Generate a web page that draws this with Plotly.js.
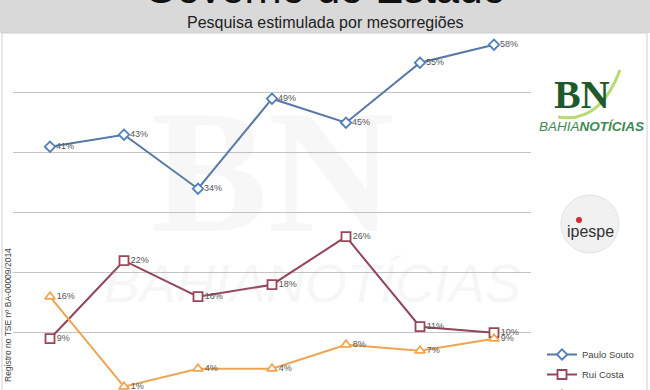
<!DOCTYPE html>
<html>
<head>
<meta charset="utf-8">
<script src="https://cdn.plot.ly/plotly-3.0.1.min.js"></script>
<style>html,body{margin:0;padding:0;background:#fff;}#chart{width:650px;height:390px;}</style>
</head>
<body>
<div id="chart"></div>
<script>
const regions = ["Extremo Oeste Baiano", "Vale São-Franciscano", "Centro-Norte Baiano", "Nordeste Baiano", "Metropolitana de Salvador", "Centro-Sul Baiano", "Sul Baiano"];
const pauloSouto = [41, 43, 34, 49, 45, 55, 58];
const ruiCosta = [9, 22, 16, 18, 26, 11, 10];
const lidice = [16, 1, 4, 4, 8, 7, 9];
const seriesNames = ["Paulo Souto", "Rui Costa", "Lídice da Mata"];
const gridTicks = [10, 20, 30, 40, 50];

const W = 650, H = 390;
const px = v => v / W;
const py = v => 1 - v / H;

function mk(name, y, color, lineColor, symbol, size) {
  return {
    type: 'scatter', mode: 'lines+markers+text', name: name, legendgroup: name,
    x: regions, y: y,
    line: {color: lineColor, width: 2},
    marker: {symbol: symbol, size: size, color: 'white', line: {color: color, width: 1.8}},
    texttemplate: '%{y}%', textposition: 'middle right',
    textfont: {family: 'Liberation Sans Narrow, Liberation Sans, sans-serif', size: 9, color: '#555'},
    cliponaxis: false
  };
}

const data = [
  mk(seriesNames[0], pauloSouto, '#4f7fbc', '#5578a6', 'diamond', 8),
  mk(seriesNames[1], ruiCosta, '#9a4558', '#944457', 'square', 9),
  mk(seriesNames[2], lidice, '#f2a64c', '#eea452', 'triangle-up', 9)
];

const layout = {
  width: W, height: H,
  margin: {l: 0, r: 0, t: 0, b: 0, autoexpand: false},
  paper_bgcolor: 'white', plot_bgcolor: 'rgba(0,0,0,0)',
  showlegend: true,
  legend: {x: px(542), y: py(340), xanchor: 'left', yanchor: 'top', tracegroupgap: 1,
           font: {family: 'Liberation Sans Narrow, Liberation Sans, sans-serif', size: 9.5, color: '#444'},
           bgcolor: 'rgba(0,0,0,0)', itemwidth: 30},
  xaxis: {domain: [px(13), px(531)], range: [-0.5, 6.5], type: 'category',
          showticklabels: false, showgrid: false, zeroline: false, ticks: '', showline: false, fixedrange: true},
  yaxis: {domain: [0, 1], range: [(392.7 - 390) / 6, 392.7 / 6], tickvals: gridTicks,
          showticklabels: false, showgrid: true, gridcolor: '#c4c4c4', gridwidth: 1.5,
          zeroline: false, ticks: '', showline: false},
  shapes: [
    {type: 'rect', xref: 'paper', yref: 'paper', x0: 0, x1: 1, y0: py(33), y1: 1.01,
     fillcolor: '#d9d9d9', line: {width: 0}, layer: 'below'},
    {type: 'rect', xref: 'paper', yref: 'paper', x0: px(2), x1: px(647), y0: -0.02, y1: py(33),
     fillcolor: 'rgba(0,0,0,0)', line: {color: '#cfcfcf', width: 1}, layer: 'below'},
    {type: 'path', xref: 'paper', yref: 'paper', layer: 'above',
     path: `M ${px(558)} ${py(117)} Q ${px(600)} ${py(124)} ${px(620)} ${py(70)}`,
     line: {color: '#b9da72', width: 3}},
    {type: 'circle', xref: 'paper', yref: 'paper', layer: 'above',
     x0: px(561), x1: px(619), y0: py(253), y1: py(195),
     fillcolor: '#f1f1f1', line: {color: '#e2e2e2', width: 1}},
    {type: 'circle', xref: 'paper', yref: 'paper', layer: 'above',
     x0: px(576), x1: px(582), y0: py(223), y1: py(217),
     fillcolor: '#d03030', line: {width: 0}}
  ],
  annotations: [
    {xref: 'paper', yref: 'paper', x: 0.5, y: py(14), xanchor: 'center', yanchor: 'bottom',
     text: 'Governo do Estado', showarrow: false,
     font: {family: 'Liberation Sans, Arial, sans-serif', size: 42, color: '#111'}},
    {xref: 'paper', yref: 'paper', x: 0.5, y: py(22), xanchor: 'center', yanchor: 'middle',
     text: 'Pesquisa estimulada por mesorregiões', showarrow: false,
     font: {family: 'Liberation Sans Narrow, Liberation Sans, sans-serif', size: 16, color: '#222'}},
    {xref: 'paper', yref: 'paper', x: px(8), y: py(315), xanchor: 'center', yanchor: 'middle',
     text: 'Registro no TSE nº BA-00009/2014', showarrow: false, textangle: -90,
     font: {family: 'Liberation Sans Narrow, Liberation Sans, sans-serif', size: 8.5, color: '#444'}},
    {xref: 'paper', yref: 'paper', x: px(272), y: py(172), xanchor: 'center', yanchor: 'middle',
     text: '<b>BN</b>', showarrow: false,
     font: {family: 'Liberation Serif, serif', size: 175, color: 'rgba(150,170,150,0.09)'}},
    {xref: 'paper', yref: 'paper', x: px(312), y: py(283), xanchor: 'center', yanchor: 'middle',
     text: '<i>BAHIANOTÍCIAS</i>', showarrow: false,
     font: {family: 'Liberation Sans, sans-serif', size: 54, color: 'rgba(160,175,175,0.11)'}},
    {xref: 'paper', yref: 'paper', x: px(582), y: py(94), xanchor: 'center', yanchor: 'middle',
     text: '<b>BN</b>', showarrow: false,
     font: {family: 'Liberation Serif, serif', size: 40, color: '#1d5a2c'}},
    {xref: 'paper', yref: 'paper', x: px(591), y: py(127), xanchor: 'center', yanchor: 'middle',
     text: '<i>BAHIA<b>NOTÍCIAS</b></i>', showarrow: false,
     font: {family: 'Liberation Sans, sans-serif', size: 13.5, color: '#3e8a50'}},
    {xref: 'paper', yref: 'paper', x: px(590), y: py(231), xanchor: 'center', yanchor: 'middle',
     text: 'ipespe', showarrow: false,
     font: {family: 'Liberation Sans, sans-serif', size: 16, color: '#333'}}
  ]
};

Plotly.newPlot('chart', data, layout, {displayModeBar: false, staticPlot: true});
</script>
</body>
</html>
